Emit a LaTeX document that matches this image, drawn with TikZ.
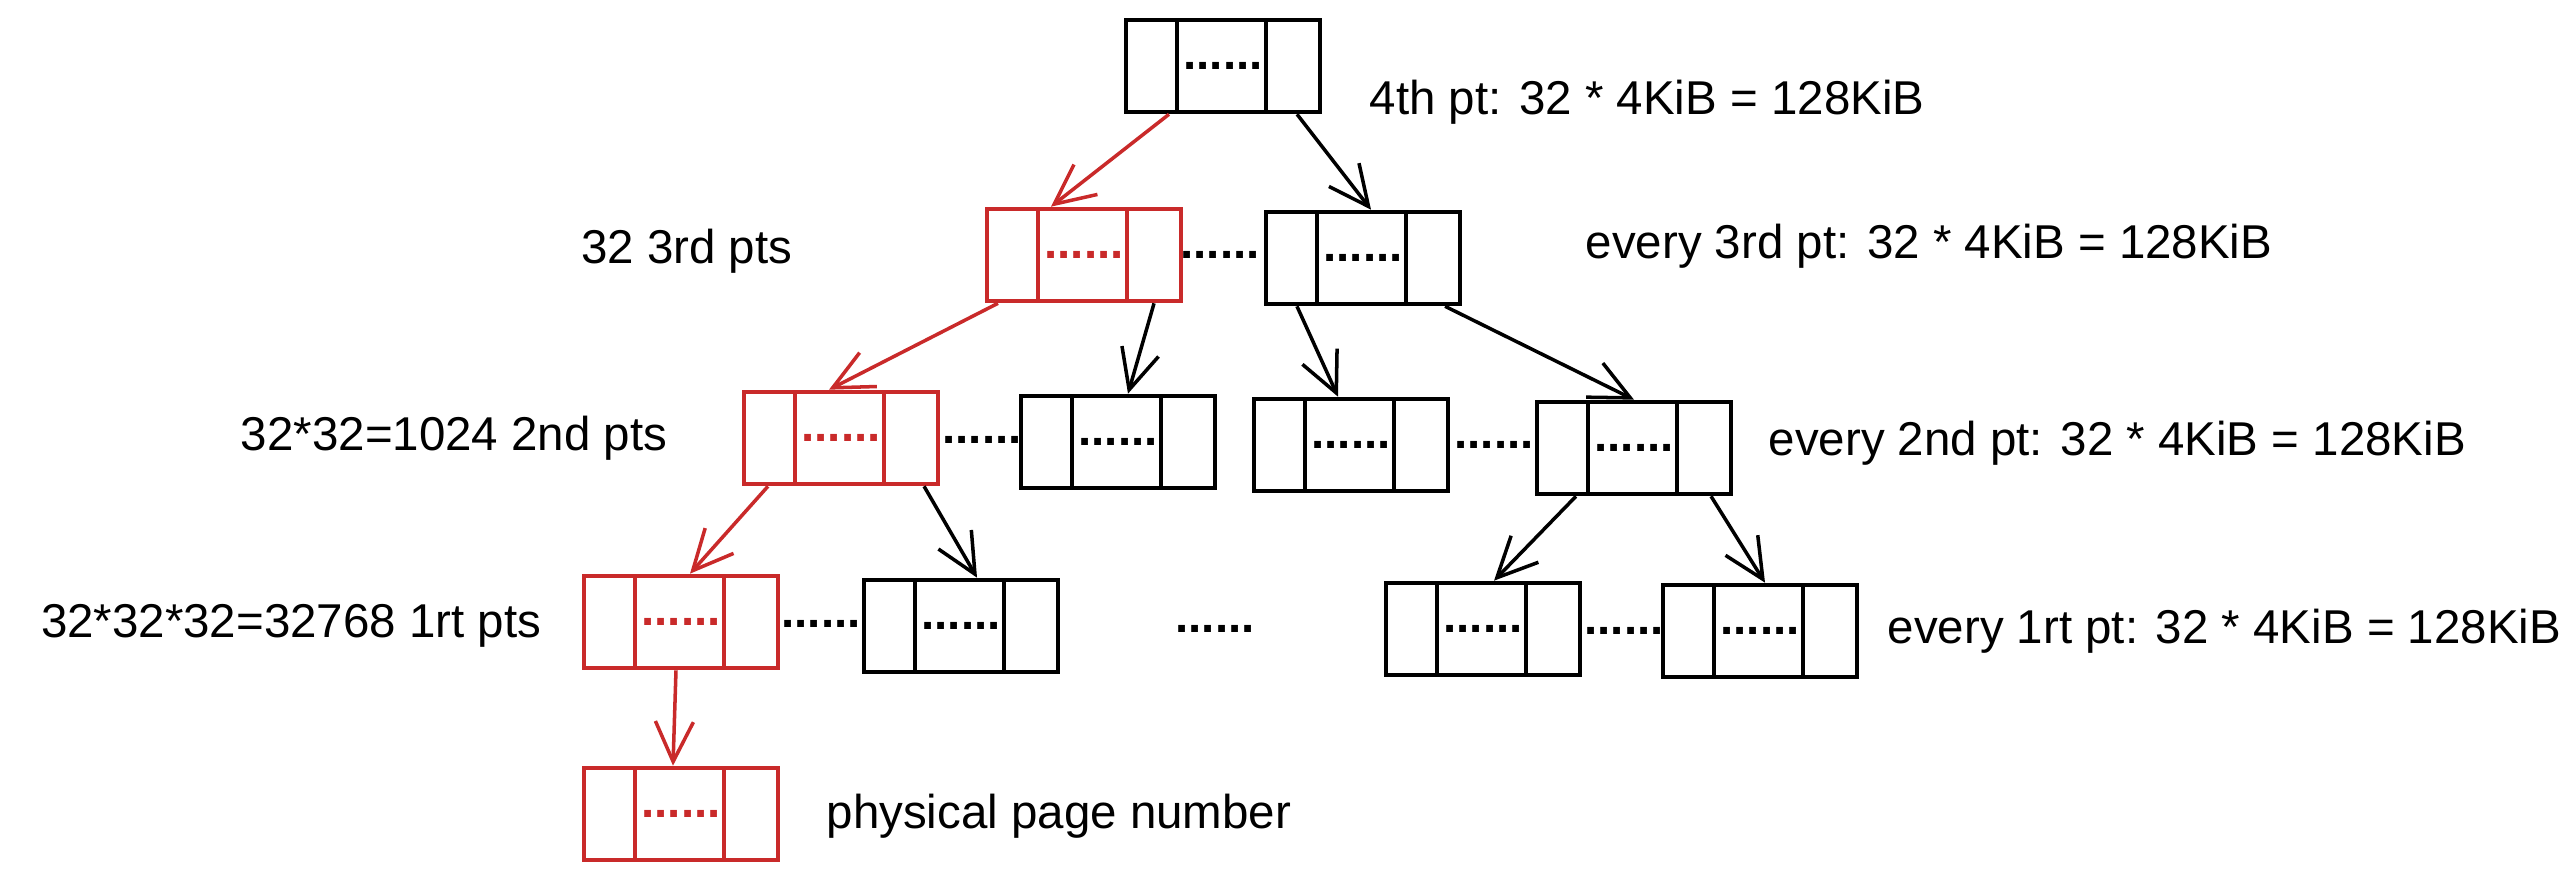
\documentclass[tikz,border=0pt]{standalone}
\usepackage{fontspec}
\setmainfont{Liberation Sans}
\usetikzlibrary{arrows.meta}
\definecolor{walkred}{HTML}{C92A2A}

\begin{document}
\begin{tikzpicture}[x=0.01cm, y=-0.01cm,
    every node/.style={font=\fontsize{13.5}{16}\selectfont},
    ptbox/.style={draw, line width=1.3pt, minimum width=1.94cm, minimum height=0.92cm, inner sep=0pt,
        path picture={
            \draw[line width=1pt] ([xshift=0.51cm]path picture bounding box.south west) -- ([xshift=0.51cm]path picture bounding box.north west);
            \draw[line width=1pt] ([xshift=-0.54cm]path picture bounding box.south east) -- ([xshift=-0.54cm]path picture bounding box.north east);
        }},
    hotbox/.style={ptbox, color=walkred},
    note/.style={inner sep=0pt},
    link/.style={-{Straight Barb[length=0.4cm, width=0.38cm]}, line width=1pt},
    hotlink/.style={link, color=walkred}]
    \useasboundingbox (0,0) rectangle (2575,880);

    % page table boxes
    \node[ptbox] (t) at (1223,66) {\textbf{......}};
    \node[hotbox] (r3) at (1084,255) {\textbf{......}};
    \node (d3) at (1220,255) {\textbf{......}};
    \node[ptbox] (b3) at (1363,258) {\textbf{......}};
    \node[hotbox] (r2) at (841,438) {\textbf{......}};
    \node (d2a) at (982,440) {\textbf{......}};
    \node[ptbox] (b2a) at (1118,442) {\textbf{......}};
    \node[ptbox] (b2b) at (1351,445) {\textbf{......}};
    \node (d2b) at (1494,445) {\textbf{......}};
    \node[ptbox] (b2c) at (1634,448) {\textbf{......}};
    \node[hotbox] (r1) at (681,622) {\textbf{......}};
    \node (d1a) at (821,624) {\textbf{......}};
    \node[ptbox] (b1a) at (961,626) {\textbf{......}};
    \node (d1m) at (1215,629) {\textbf{......}};
    \node[ptbox] (b1b) at (1483,629) {\textbf{......}};
    \node (d1b) at (1624,631) {\textbf{......}};
    \node[ptbox] (b1c) at (1760,631) {\textbf{......}};
    \node[hotbox] (r0) at (681,814) {\textbf{......}};

    % labels
    \node[note, anchor=west] (l4) at (1369,102) {4th pt: 32 * 4KiB = 128KiB};
    \node[note, anchor=east] (n3) at (793,251) {32 3rd pts};
    \node[note, anchor=west] (l3) at (1585,246) {every 3rd pt: 32 * 4KiB = 128KiB};
    \node[note, anchor=east] (n2) at (668,438) {32*32=1024 2nd pts};
    \node[note, anchor=west] (l2) at (1768,443) {every 2nd pt: 32 * 4KiB = 128KiB};
    \node[note, anchor=east] (n1) at (542,626) {32*32*32=32768 1rt pts};
    \node[note, anchor=west] (l1) at (1887,631) {every 1rt pt: 32 * 4KiB = 128KiB};
    \node[note, anchor=west] (l0) at (826,816) {physical page number};

    % walk
    \draw[hotlink] ([xshift=-0.54cm]t.south) -- ([xshift=-0.33cm]r3.north);
    \draw[link] ([xshift=0.74cm]t.south) -- ([xshift=0.08cm]b3.north);
    \draw[hotlink] ([xshift=-0.86cm]r3.south) -- ([xshift=-0.12cm]r2.north);
    \draw[link] ([xshift=0.70cm]r3.south) -- ([xshift=0.10cm]b2a.north);
    \draw[link] ([xshift=-0.66cm]b3.south) -- ([xshift=-0.13cm]b2b.north);
    \draw[link] ([xshift=0.82cm]b3.south) -- (b2c.north);
    \draw[hotlink] ([xshift=-0.73cm]r2.south) -- ([xshift=0.09cm]r1.north);
    \draw[link] ([xshift=0.83cm]r2.south) -- ([xshift=0.16cm]b1a.north);
    \draw[link] ([xshift=-0.58cm]b2c.south) -- ([xshift=0.11cm]b1b.north);
    \draw[link] ([xshift=0.77cm]b2c.south) -- ([xshift=0.05cm]b1c.north);
    \draw[hotlink] ([xshift=-0.05cm]r1.south) -- ([xshift=-0.08cm]r0.north);
\end{tikzpicture}
\end{document}
